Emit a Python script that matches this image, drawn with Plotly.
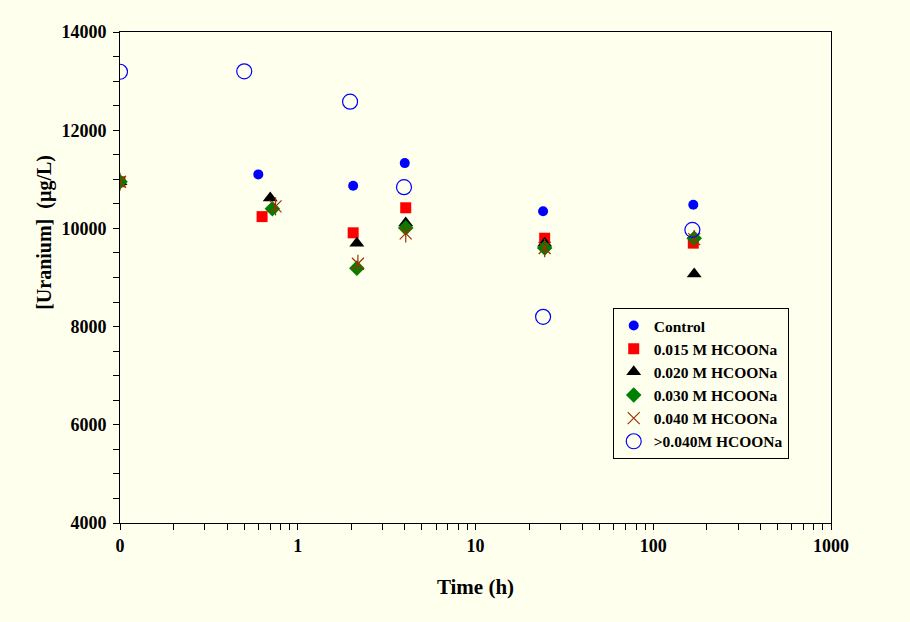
import plotly.graph_objects as go

# Time (h); 0.1 is shown as "0" on the log axis
control_t = [0.1, 0.6, 2.05, 4.0, 24, 168]
control_u = [10950, 11100, 10870, 11330, 10350, 10480]

m015_t = [0.1, 0.63, 2.05, 4.05, 24.5, 168]
m015_u = [10950, 10240, 9910, 10420, 9800, 9700]

m020_t = [0.1, 0.70, 2.15, 4.05, 24.5, 170]
m020_u = [10950, 10620, 9700, 10110, 9700, 9070]

m030_t = [0.1, 0.72, 2.15, 4.05, 24.5, 170]
m030_u = [10950, 10400, 9190, 10010, 9600, 9800]

m040_t = [0.1, 0.75, 2.18, 4.05, 24.5, 170]
m040_u = [10950, 10450, 9280, 9900, 9600, 9780]

mgt_t = [0.1, 0.5, 1.97, 3.96, 24, 166]
mgt_u = [13190, 13200, 12580, 10840, 8200, 9970]

x_tickvals = [0.1, 1, 10, 100, 1000]
x_ticktext = ["0", "1", "10", "100", "1000"]
x_minor = [m * d for d in (0.1, 1, 10, 100) for m in range(2, 10)]

BG = "#FFFFEE"
FONT = "Liberation Serif"

fig = go.Figure()
fig.add_trace(go.Scatter(x=control_t, y=control_u, mode="markers", name="Control",
                         marker=dict(symbol="circle", size=10, color="#0000FF")))
fig.add_trace(go.Scatter(x=m015_t, y=m015_u, mode="markers", name="0.015 M HCOONa",
                         marker=dict(symbol="square", size=11, color="#FF0000")))
fig.add_trace(go.Scatter(x=m020_t, y=m020_u, mode="markers", name="0.020 M HCOONa",
                         marker=dict(symbol="triangle-up", size=13, color="#000000")))
fig.add_trace(go.Scatter(x=m030_t, y=m030_u, mode="markers", name="0.030 M HCOONa",
                         marker=dict(symbol="diamond", size=12, color="#008000")))
fig.add_trace(go.Scatter(x=m040_t, y=m040_u, mode="markers", name="0.040 M HCOONa",
                         legendgroup="m040",
                         marker=dict(symbol="x-thin-open", size=12, color="#993300",
                                     line=dict(color="#993300", width=1.2))))
fig.add_trace(go.Scatter(x=m040_t, y=m040_u, mode="markers", showlegend=False,
                         legendgroup="m040", hoverinfo="skip",
                         marker=dict(symbol="line-ns-open", size=13, color="#993300",
                                     line=dict(color="#993300", width=1.2))))
fig.add_trace(go.Scatter(x=mgt_t, y=mgt_u, mode="markers", name=">0.040M HCOONa",
                         marker=dict(symbol="circle-open", size=15, color="#0000FF",
                                     line=dict(color="#0000FF", width=1.2))))

fig.update_layout(
    width=910, height=622,
    margin=dict(l=120, r=79, t=32, b=99),
    paper_bgcolor=BG, plot_bgcolor=BG,
    font=dict(family=FONT, color="black"),
    showlegend=True,
    legend=dict(x=0.693, y=0.438, xanchor="left", yanchor="top",
                bgcolor=BG, bordercolor="black", borderwidth=1,
                font=dict(family=FONT, size=15.5, weight="bold", color="black"),
                itemwidth=30, tracegroupgap=0),
    annotations=[dict(text="[Uranium]  (µg/L)", xref="paper", yref="paper",
                      x=-0.1055, y=0.593, xanchor="center", yanchor="middle",
                      textangle=-90, showarrow=False,
                      font=dict(family=FONT, size=20, weight="bold", color="black"))],
)
fig.update_xaxes(
    type="log", range=[-1, 3],
    tickvals=x_tickvals, ticktext=x_ticktext,
    tickfont=dict(family=FONT, size=18, weight="bold"),
    ticks="outside", ticklen=6, tickcolor="black",
    minor=dict(ticks="outside", ticklen=6, tickvals=x_minor, tickcolor="black", showgrid=False),
    showgrid=False, zeroline=False,
    showline=True, linecolor="black", linewidth=1, mirror=True,
    title=dict(text="Time (h)", font=dict(family=FONT, size=21, weight="bold"), standoff=24),
)
fig.update_yaxes(
    range=[4000, 14000], dtick=2000, tickformat="d",
    tickfont=dict(family=FONT, size=18, weight="bold"),
    ticks="outside", ticklen=6, tickcolor="black", ticklabelstandoff=3,
    minor=dict(ticks="outside", ticklen=6, dtick=500, tickcolor="black", showgrid=False),
    showgrid=False, zeroline=False,
    showline=True, linecolor="black", linewidth=1, mirror=True,
)

fig.write_html("out.html")
